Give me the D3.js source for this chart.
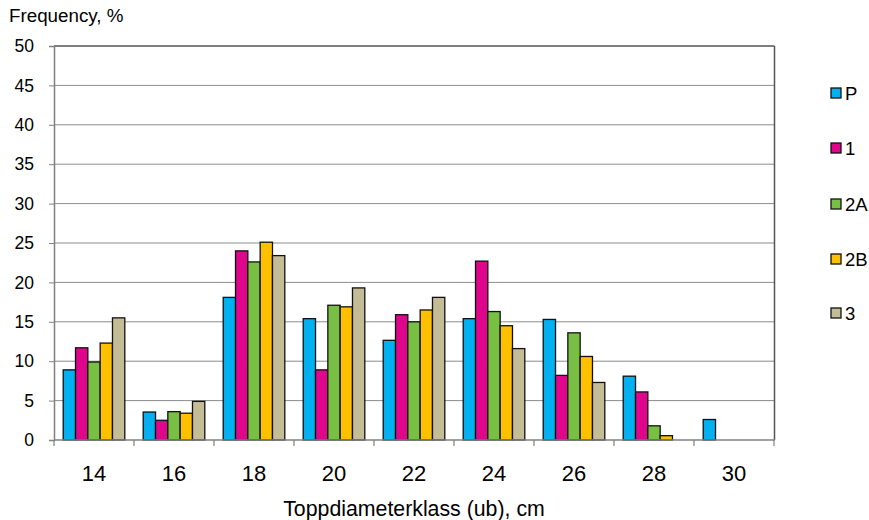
<!DOCTYPE html>
<html><head><meta charset="utf-8">
<script src="https://cdn.jsdelivr.net/npm/d3@7"></script>
<style>body{margin:0;background:#fff}text{font-family:Arial,"Liberation Sans",sans-serif}</style>
</head><body><svg id="c" width="869" height="520"></svg>
<script>
const categories = ["14","16","18","20","22","24","26","28","30"];
const seriesNames = ["P","1","2A","2B","3"];
const valuesP  = [8.9, 3.55, 18.1, 15.4, 12.65, 15.4, 15.3, 8.1, 2.6];
const values1  = [11.7, 2.5, 24.0, 8.9, 15.9, 22.7, 8.2, 6.1, 0];
const values2A = [9.9, 3.6, 22.6, 17.1, 15.0, 16.3, 13.6, 1.8, 0];
const values2B = [12.3, 3.4, 25.1, 16.9, 16.5, 14.5, 10.6, 0.55, 0];
const values3  = [15.5, 4.9, 23.4, 19.3, 18.1, 11.6, 7.3, 0, 0];
const yTicks = [0,5,10,15,20,25,30,35,40,45,50];
const colors = ["#00B0F0","#E0068C","#78C043","#FFC000","#C4BC96"];
const allSeries = [valuesP, values1, values2A, values2B, values3];

const svg = d3.select("#c");
const L = 54, R = 774, T = 46, B = 440;
const x0 = d3.scaleBand().domain(categories).range([L, R]).padding(0);
const bw = x0.bandwidth();
const x1 = d3.scaleBand().domain(seriesNames).range([bw*0.115, bw*0.885]).padding(0);
const y = d3.scaleLinear().domain([0,50]).range([B, T]);

// gridlines
svg.append("g").selectAll("line").data(yTicks.filter(d=>d>0 && d<50)).join("line")
  .attr("x1", L).attr("x2", R).attr("y1", d=>y(d)).attr("y2", d=>y(d))
  .attr("stroke", "#8c8c8c").attr("stroke-width", 1);

// plot border top/right
svg.append("line").attr("x1", L).attr("x2", R+0.5).attr("y1", T).attr("y2", T).attr("stroke", "#555").attr("stroke-width", 1.5);
svg.append("line").attr("x1", R+0.5).attr("x2", R+0.5).attr("y1", T).attr("y2", B).attr("stroke", "#555").attr("stroke-width", 1.5);

// bars
const groups = svg.append("g").selectAll("g").data(categories).join("g")
  .attr("transform", d=>`translate(${x0(d)},0)`);
groups.selectAll("rect").data((c,i)=>seriesNames.map((s,j)=>({s, v: allSeries[j][i], j})).filter(d=>d.v>0)).join("rect")
  .attr("x", d=>x1(d.s)).attr("width", x1.bandwidth())
  .attr("y", d=>y(d.v)).attr("height", d=>B - y(d.v))
  .attr("fill", d=>colors[d.j]).attr("stroke", "#111").attr("stroke-width", 1.3);

// y axis
const yAxis = d3.axisLeft(y).tickValues(yTicks).tickSize(5).tickPadding(15);
const gy = svg.append("g").attr("transform", `translate(${L},0)`).call(yAxis);
gy.select(".domain").attr("stroke", "#808080").attr("stroke-width", 1.5);
gy.selectAll(".tick line").attr("stroke", "#808080");
gy.selectAll("text").attr("font-size", 17.5).attr("fill", "#000").attr("font-family", "Arial, 'Liberation Sans', sans-serif");

// x axis
const gx = svg.append("g").attr("transform", `translate(0,${B})`);
gx.append("line").attr("x1", L).attr("x2", R+1).attr("y1", 0).attr("y2", 0).attr("stroke", "#808080").attr("stroke-width", 1.5);
const tickPos = categories.map(c=>x0(c)).concat([R]);
gx.selectAll("line.t").data(tickPos).join("line").attr("class","t")
  .attr("x1", d=>d).attr("x2", d=>d).attr("y1", 0).attr("y2", 6).attr("stroke", "#808080").attr("stroke-width", 1.2);
gx.selectAll("text").data(categories).join("text")
  .attr("x", d=>x0(d)+bw/2).attr("y", 41).attr("text-anchor", "middle")
  .attr("font-size", 22).attr("font-family", "Lato, 'Open Sans', sans-serif").attr("fill", "#000").text(d=>d);

// titles
svg.append("text").attr("x", 9).attr("y", 22).attr("font-size", 18.8).text("Frequency, %");
svg.append("text").attr("x", 414).attr("y", 516).attr("text-anchor", "middle").attr("font-size", 21.3).text("Toppdiameterklass (ub), cm");

// legend
const legY = [93, 148, 204, 259, 313];
const lg = svg.append("g").selectAll("g").data(seriesNames).join("g")
  .attr("transform", (d,i)=>`translate(831,${legY[i]})`);
lg.append("rect").attr("x", 0).attr("y", -5).attr("width", 10).attr("height", 10)
  .attr("fill", (d,i)=>colors[i]).attr("stroke", "#111").attr("stroke-width", 1.3);
lg.append("text").attr("x", 14).attr("y", 6.5).attr("font-size", 18.5).text(d=>d);
</script></body></html>
